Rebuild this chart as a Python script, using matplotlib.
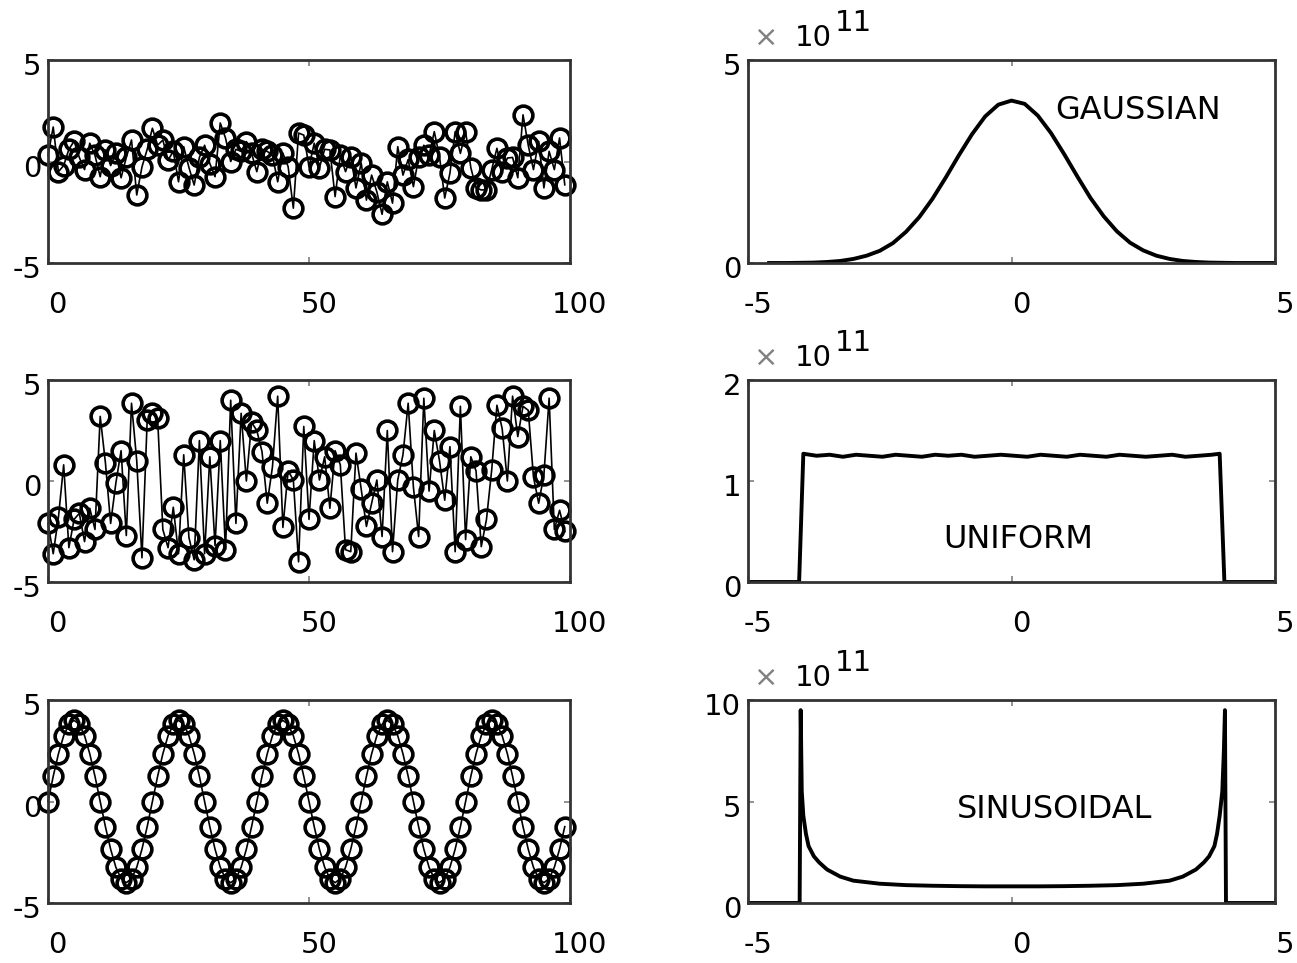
import numpy as np
import matplotlib
matplotlib.use('Agg')
import matplotlib.pyplot as plt
from matplotlib.transforms import ScaledTranslation

plt.rcParams['font.family'] = ['DejaVu Sans']
plt.rcParams['axes.unicode_minus'] = False

# ---- left column: sample sequences (index 0..99) ----
gauss_seq = [0.3, 1.7, -0.5, -0.2, 0.6, 1.0, 0.2, -0.4, 0.9, 0.3,
             -0.75, 0.57, -0.2, 0.4, -0.8, 0.2, 1.06, -1.65, -0.27, 0.6,
             1.64, 0.8, 1.06, 0.07, 0.5, -1.0, 0.73, -0.3, -1.16, 0.2,
             0.8, -0.1, -0.75, 1.9, 1.16, 0.0, 0.6, 0.5, 0.98, 0.4,
             -0.5, 0.6, 0.5, 0.3, -1.0, 0.4, -0.25, -2.3, 1.4, 1.3,
             -0.26, 0.9, -0.3, 0.6, 0.57, -1.73, 0.3, -0.5, 0.24, -1.3,
             -0.07, -1.9, -0.67, -1.5, -2.6, -1.0, -2.05, 0.73, -0.67, 0.1,
             -1.24, 0.2, 0.8, 0.3, 1.47, 0.24, -1.8, -0.57, 1.47, 0.4,
             1.47, -0.3, -1.3, -1.4, -1.4, -0.4, 0.65, -0.5, 0.17, 0.2,
             -0.8, 2.3, 0.8, -0.4, 1.0, -1.3, 0.5, -0.4, 1.16, -1.15]

unif_seq = [-2.1, -3.6, -1.8, 0.8, -3.3, -1.9, -1.6, -3.0, -1.35, -2.4,
            3.2, 0.9, -2.1, -0.1, 1.5, -2.7, 3.85, 1.0, -3.8, 3.0,
            3.35, 3.1, -2.4, -3.3, -1.3, -3.6, 1.3, -2.8, -3.9, 2.0,
            -3.6, 1.2, -3.2, 2.0, -3.4, 4.0, -2.1, 3.35, 0.0, 2.9,
            2.5, 1.45, -1.1, 0.7, 4.2, -2.3, 0.5, 0.05, -4.0, 2.7,
            -1.9, 2.0, 0.05, 1.2, -1.35, 1.5, 0.8, -3.4, -3.5, 1.38,
            -0.4, -2.25, -1.1, 0.05, -2.75, 2.5, -3.5, 0.05, 1.3, 3.85,
            -0.3, -2.75, 4.1, -0.5, 2.5, 1.0, -0.95, 1.7, -3.5, 3.7,
            -2.9, 1.2, 0.5, -3.25, -1.9, 0.55, 3.75, 2.6, 0.0, 4.2,
            2.2, 3.7, 3.5, 0.2, -1.1, 0.3, 4.1, -2.4, -1.45, -2.5]

sine_seq = [0, 1.24, 2.35, 3.24, 3.80, 4.0, 3.80, 3.24, 2.35, 1.24,
            0, -1.24, -2.35, -3.24, -3.80, -4.0, -3.80, -3.24, -2.35, -1.24,
            0, 1.24, 2.35, 3.24, 3.80, 4.0, 3.80, 3.24, 2.35, 1.24,
            0, -1.24, -2.35, -3.24, -3.80, -4.0, -3.80, -3.24, -2.35, -1.24,
            0, 1.24, 2.35, 3.24, 3.80, 4.0, 3.80, 3.24, 2.35, 1.24,
            0, -1.24, -2.35, -3.24, -3.80, -4.0, -3.80, -3.24, -2.35, -1.24,
            0, 1.24, 2.35, 3.24, 3.80, 4.0, 3.80, 3.24, 2.35, 1.24,
            0, -1.24, -2.35, -3.24, -3.80, -4.0, -3.80, -3.24, -2.35, -1.24,
            0, 1.24, 2.35, 3.24, 3.80, 4.0, 3.80, 3.24, 2.35, 1.24,
            0, -1.24, -2.35, -3.24, -3.80, -4.0, -3.80, -3.24, -2.35, -1.24]

# ---- right column: density curves (units of 1e11) ----
gauss_x = [-4.6, -4.25, -4.0, -3.75, -3.5, -3.25, -3.0, -2.75, -2.5, -2.25,
           -2.0, -1.75, -1.5, -1.25, -1.0, -0.75, -0.5, -0.25, 0.0, 0.25,
           0.5, 0.75, 1.0, 1.25, 1.5, 1.75, 2.0, 2.25, 2.5, 2.75,
           3.0, 3.25, 3.5, 3.75, 4.0, 4.25, 4.6, 5.0]
gauss_y = [0.0, 0.0, 0.005, 0.01, 0.025, 0.05, 0.10, 0.18, 0.30, 0.49,
           0.77, 1.13, 1.58, 2.10, 2.65, 3.17, 3.61, 3.90, 4.0, 3.92,
           3.63, 3.20, 2.68, 2.13, 1.60, 1.15, 0.78, 0.50, 0.31, 0.18,
           0.10, 0.05, 0.025, 0.01, 0.005, 0.0, 0.0, 0.0]

unif_x = [-5.0, -4.03, -3.95, -3.7, -3.45, -3.2, -2.95, -2.7, -2.45, -2.2,
          -1.95, -1.7, -1.45, -1.2, -0.95, -0.7, -0.45, -0.2, 0.05, 0.3,
          0.55, 0.8, 1.05, 1.3, 1.55, 1.8, 2.05, 2.3, 2.55, 2.8,
          3.05, 3.3, 3.55, 3.8, 3.95, 4.04, 5.0]
unif_y = [0.0, 0.0, 1.27, 1.25, 1.26, 1.24, 1.26, 1.25, 1.24, 1.26,
          1.25, 1.24, 1.26, 1.25, 1.26, 1.24, 1.25, 1.26, 1.25, 1.24,
          1.26, 1.25, 1.24, 1.26, 1.25, 1.24, 1.26, 1.25, 1.24, 1.25,
          1.26, 1.24, 1.25, 1.26, 1.27, 0.0, 0.0]

sinu_x = [-5.0, -4.02, -4.0, -3.98, -3.95, -3.9, -3.85, -3.75, -3.65, -3.5,
          -3.25, -3.0, -2.5, -2.0, -1.5, -1.0, -0.5, 0.0, 0.5, 1.0,
          1.5, 2.0, 2.5, 3.0, 3.25, 3.5, 3.65, 3.75, 3.85, 3.9,
          3.95, 4.0, 4.03, 4.05, 4.07, 5.0]
sinu_y = [0.0, 0.0, 9.5, 5.5, 4.3, 3.4, 2.8, 2.3, 2.0, 1.65,
          1.3, 1.1, 0.95, 0.88, 0.85, 0.83, 0.82, 0.82, 0.82, 0.83,
          0.85, 0.88, 0.95, 1.1, 1.3, 1.65, 2.0, 2.3, 2.8, 3.4,
          4.3, 5.5, 7.5, 9.5, 0.0, 0.0]

right_ylims = [(0, 5), (0, 2), (0, 10)]
right_yticks = [[0, 5], [0, 1, 2], [0, 5, 10]]
labels = ['GAUSSIAN', 'UNIFORM', 'SINUSOIDAL']
label_pos = [(0.83, 3.55), (-1.3, 0.34), (-1.03, 4.2)]

W, H = 1297, 963
fig = plt.figure(figsize=(W / 100, H / 100), dpi=100)

rows = [(60, 263), (380, 582), (700, 903)]
left_cols = (48, 570)
right_cols = (748, 1275)

FS = 21
SPINE = '#333333'


def make_ax(cols, row):
    x0, x1 = cols
    y0, y1 = row
    ax = fig.add_axes([x0 / W, 1 - y1 / H, (x1 - x0) / W, (y1 - y0) / H])
    for s in ax.spines.values():
        s.set_linewidth(2.0)
        s.set_color(SPINE)
    ax.tick_params(direction='in', top=True, right=True, length=4,
                   width=1.2, color='gray', labelsize=FS)
    ax.tick_params(axis='x', pad=20)
    ax.tick_params(axis='y', pad=5)
    return ax


def shift_labels(ax):
    off = ScaledTranslation(7 / 72, 0, fig.dpi_scale_trans)
    for lab in ax.get_xticklabels():
        lab.set_transform(lab.get_transform() + off)
    offy = ScaledTranslation(0, -3 / 72, fig.dpi_scale_trans)
    for lab in ax.get_yticklabels():
        lab.set_transform(lab.get_transform() + offy)


idx = np.arange(len(gauss_seq))
for row, seq in zip(rows, [gauss_seq, unif_seq, sine_seq]):
    ax = make_ax(left_cols, row)
    ax.plot(idx, seq, '-', color='k', linewidth=1.2, marker='o',
            markersize=13.5, markerfacecolor='none', markeredgecolor='k',
            markeredgewidth=2.6, clip_on=False)
    ax.set_xlim(0, 100)
    ax.set_ylim(-5, 5)
    ax.set_xticks([0, 50, 100])
    ax.set_yticks([-5, 0, 5])
    shift_labels(ax)

curves = [(gauss_x, gauss_y), (unif_x, unif_y), (sinu_x, sinu_y)]
for i, (row, (cx, cy)) in enumerate(zip(rows, curves)):
    ax = make_ax(right_cols, row)
    ax.plot(cx, cy, color='k', linewidth=2.8, solid_joinstyle='round')
    ax.set_xlim(-5, 5)
    ax.set_ylim(*right_ylims[i])
    ax.set_xticks([-5, 0, 5])
    ax.set_yticks(right_yticks[i])
    shift_labels(ax)
    lx, ly = label_pos[i]
    ax.text(lx, ly, labels[i], fontsize=23, ha='left', va='baseline')
    # multiplier annotation
    ax.text(0.012, 1.07, '\u00d7', transform=ax.transAxes, fontsize=FS,
            color='gray', va='baseline')
    ax.text(0.088, 1.07, '10', transform=ax.transAxes, fontsize=FS,
            va='baseline')
    ax.text(0.165, 1.145, '11', transform=ax.transAxes, fontsize=FS,
            va='baseline')

fig.savefig('out.png', dpi=100)
